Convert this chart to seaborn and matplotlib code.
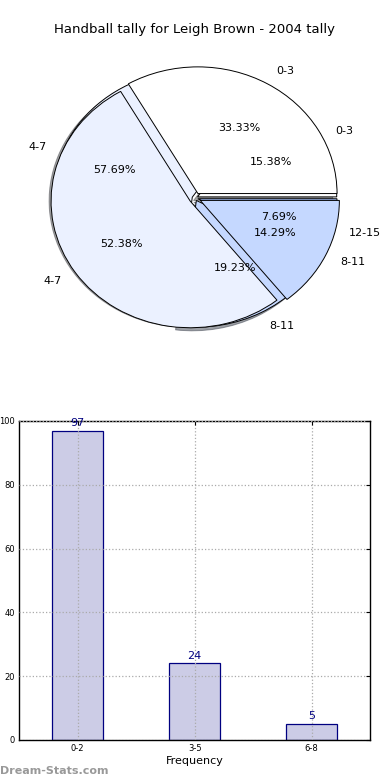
import matplotlib
matplotlib.use('Agg')
import matplotlib.pyplot as plt
import seaborn as sns

# pie data (two tallies drawn on top of each other)
back_labels = ['0-3', '4-7', '8-11', '12-15']
back_values = [4, 15, 5, 2]
front_labels = ['0-3', '4-7', '8-11']
front_values = [7, 11, 3]
slice_colors = ['#ffffff', '#ebf1ff', '#c5d8ff', '#a9c6ff']

# bar data
bar_cats = ['0-2', '3-5', '6-8']
bar_values = [97, 24, 5]

sns.set_style('white')
plt.rcParams['font.family'] = ['DejaVu Sans']
plt.rcParams['text.color'] = 'black'
plt.rcParams['xtick.color'] = 'black'
plt.rcParams['ytick.color'] = 'black'
plt.rcParams['axes.labelcolor'] = 'black'

fig = plt.figure(figsize=(3.9, 7.8), dpi=100)
fig.text(0.5, 1 - 30 / 780, 'Handball tally for Leigh Brown - 2004 tally',
         ha='center', va='center', fontsize=9.5)

# ── pie
ax1 = fig.add_axes([0.054, 0.543, 0.892, 0.406])
wedge_kw = dict(edgecolor='black', linewidth=0.7)
ax1.pie(back_values, labels=back_labels, colors=slice_colors,
        autopct='%1.2f%%', pctdistance=0.6, labeldistance=1.12,
        explode=[0.02] * 4, shadow=True, wedgeprops=wedge_kw, radius=0.96,
        textprops=dict(fontsize=8), startangle=0)
ax1.pie(front_values, labels=front_labels, colors=slice_colors[:3],
        autopct='%1.2f%%', pctdistance=0.6, labeldistance=1.12,
        explode=[0.04] * 3, wedgeprops=wedge_kw, radius=0.96,
        textprops=dict(fontsize=8), startangle=0)
ax1.set_aspect('auto')
ax1.set_xlim(-1.2, 1.2)
ax1.set_ylim(-1.2, 1.2)
ax1.axis('off')

# ── bars
ax2 = fig.add_axes([0.049, 0.0513, 0.9, 0.409])
sns.barplot(x=bar_cats, y=bar_values, color='#ccccE6', saturation=1,
            edgecolor='navy', linewidth=0.9, width=0.44, ax=ax2, zorder=2)
for i, v in enumerate(bar_values):
    ax2.text(i, v + 0.8, str(v), ha='center', va='bottom', fontsize=8,
             color='navy', zorder=4)
ax2.set_xlim(-0.5, 2.5)
ax2.set_ylim(0, 100)
ax2.set_yticks([0, 20, 40, 60, 80, 100])
ax2.grid(True, color='#aaaaaa', linestyle=':', linewidth=0.9, zorder=3)
ax2.set_axisbelow(False)
for s in ax2.spines.values():
    s.set_color('black')
    s.set_linewidth(1)
ax2.tick_params(direction='in', top=True, right=True, length=3,
                labelsize=6, pad=3)
ax2.set_xlabel('Frequency', fontsize=8, labelpad=2)
ax2.set_ylabel('')

fig.text(0.0, 1 - 771 / 780, 'Dream-Stats.com', ha='left', va='center',
         fontsize=8, color='#999999', fontweight='bold')

fig.savefig('out.png', dpi=100)
